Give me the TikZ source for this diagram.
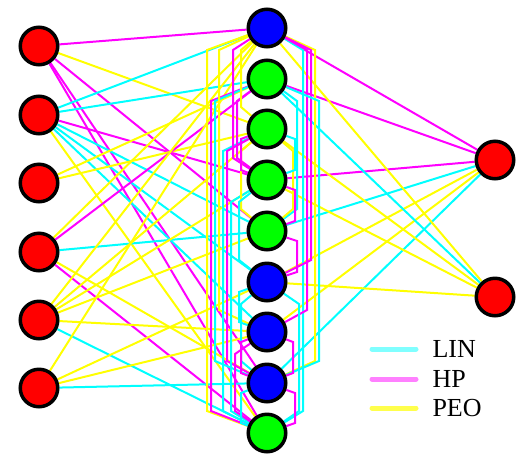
\documentclass[tikz,border=0pt]{standalone}
\usepackage{fontspec}
\setmainfont{Liberation Serif}
\usetikzlibrary{backgrounds}
\definecolor{NetLin}{RGB}{0,255,255}
\definecolor{NetHp}{RGB}{255,0,255}
\definecolor{NetPeo}{RGB}{255,255,0}
\definecolor{NetRed}{RGB}{255,0,0}
\definecolor{NetGreen}{RGB}{0,255,0}
\definecolor{NetBlue}{RGB}{0,0,255}

\begin{document}
\begin{tikzpicture}[x=1pt,y=-1pt,
  unit/.style={circle,draw=black,line width=3.5pt,minimum size=37.5pt,inner sep=0pt,fill=#1},
  lin/.style={NetLin,line width=2pt},
  hp/.style={NetHp,line width=2pt},
  peo/.style={NetPeo,line width=2pt},
  key/.style={#1,line width=5pt,line cap=round},
  keytext/.style={right=14pt,inner sep=0pt,text=black,font=\fontsize{26}{30}\selectfont}]
\useasboundingbox (0,0) rectangle (527,459);
% input column
\foreach \i/\y in {1/46,2/115,3/183,4/252,5/320,6/388}
  \node[unit=NetRed] (l\i) at (39,\y) {};
% hidden column
\foreach \i/\y/\col in %
{1/28/NetBlue,2/79/NetGreen,3/129/NetGreen,4/180/NetGreen,5/231/NetGreen,
 6/282/NetBlue,7/332/NetBlue,8/383/NetBlue,9/433/NetGreen}
  \node[unit=\col] (m\i) at (267,\y) {};
% output column
\node[unit=NetRed] (r1) at (495,160) {};
\node[unit=NetRed] (r2) at (495,297) {};

\begin{scope}[on background layer]
% input -> hidden
\foreach \i/\j/\col in %
{1/1/hp,1/3/peo,1/5/hp,1/8/hp,1/9/hp,
 2/1/lin,2/2/lin,2/4/hp,2/5/lin,2/6/lin,2/7/lin,2/9/peo,
 3/2/peo,3/3/peo,
 4/1/peo,4/2/hp,4/5/lin,4/8/peo,4/9/hp,
 5/1/peo,5/3/peo,5/4/peo,5/5/peo,5/7/peo,5/9/lin,
 6/1/peo,6/6/peo,6/7/peo,6/8/lin} {
   \draw[\col] (l\i) -- (m\j);
}
% hidden -> output
\foreach \j/\k/\col in %
{1/1/hp,2/1/hp,4/1/hp,5/1/lin,6/1/peo,7/1/peo,8/1/lin,
 1/2/peo,2/2/lin,3/2/peo,4/2/peo,6/2/peo} {
   \draw[\col] (m\j) -- (r\k);
}
% hidden -> hidden, routed in lanes
\foreach \i/\j/\col/\dx/\dy in %
{1/9/peo/-60/22,2/9/hp/-56/22,2/8/lin/-52/22,1/7/peo/-48/22,
 3/9/lin/-44/22,3/8/hp/-40/22,4/9/lin/-36/22,1/4/hp/-34/22,
 2/4/hp/-30/22,1/3/peo/-26/22,3/5/peo/-26/22,4/6/lin/-28/22,
 6/8/lin/-26/22,7/9/hp/-32/22,
 1/8/peo/48/22,1/9/lin/36/22,1/7/hp/40/22,1/6/hp/44/22,
 2/8/lin/52/22,2/5/lin/30/22,3/5/peo/26/22,6/9/lin/32/22,
 3/4/hp/-26/10,6/7/lin/-28/10,7/8/hp/-26/10,8/9/lin/-26/10,
 3/4/lin/28/10,4/5/hp/28/10,5/6/hp/30/10,7/8/hp/26/10,8/9/hp/28/10} {
   \draw[\col] (m\i) -- ([shift={(\dx,\dy)}]m\i.center)
      -- ([shift={(\dx,-\dy)}]m\j.center) -- (m\j);
}
\end{scope}

% legend
\draw[key=NetLin!50] (372,349) -- (416,349) node[keytext] (klin) {LIN};
\draw[key=NetHp!50] (372,379) -- (416,379) node[keytext] (khp) {HP};
\draw[key=NetPeo!70] (372,408) -- (416,408) node[keytext] (kpeo) {PEO};
\end{tikzpicture}
\end{document}
